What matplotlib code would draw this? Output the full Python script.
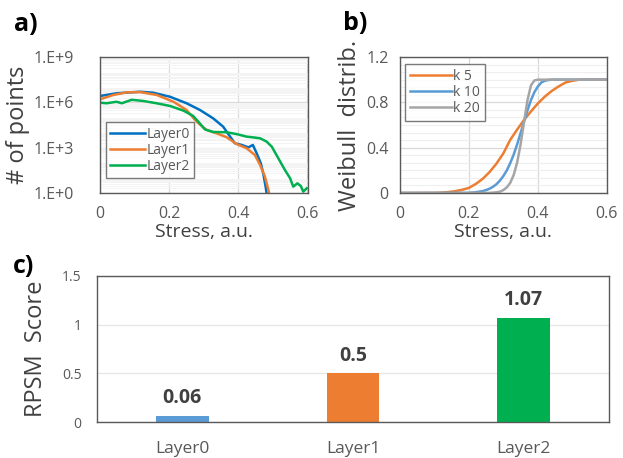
import numpy as np
import matplotlib.pyplot as plt
from matplotlib.ticker import FixedLocator, MultipleLocator, LogLocator, NullFormatter

plt.rcParams['font.family'] = ['Open Sans', 'DejaVu Sans']

# a) histogram of stress per layer (log10 of counts)
x_l0 = [0, .048, .116, .154, .203, .251, .29, .328, .357, .377, .391, .411, .43, .443,
        .454, .466, .473, .48, .486]
y_l0 = [6.42, 6.60, 6.70, 6.64, 6.37, 5.94, 5.49, 4.94, 4.39, 3.73, 3.29, 3.18, 3.02, 3.18,
        2.63, 1.97, 1.30, 0.42, -0.5]
x_l1 = [0, .039, .077, .116, .164, .213, .251, .28, .309, .338, .367, .396, .425, .449,
        .464, .478, .488, .494]
y_l1 = [6.2, 6.49, 6.66, 6.68, 6.49, 6.04, 5.49, 4.72, 4.17, 3.95, 3.69, 3.24, 2.96, 2.51,
        1.85, 1.08, 0.2, -0.5]
x_l2 = [0, .019, .048, .063, .092, .126, .164, .203, .242, .27, .285, .304, .328, .367,
        .396, .425, .444, .464, .483, .498, .517, .536, .551, .56, .572, .582, .589, .599]
y_l2 = [5.98, 5.94, 6.04, 5.94, 6.17, 6.09, 5.94, 5.76, 5.45, 5.10, 4.72, 4.21, 4.04, 4.02,
        3.90, 3.73, 3.68, 3.62, 3.40, 3.06, 2.29, 1.52, 0.97, 0.42, 0.64, 0.46, 0.09, 0.31]
layers = ['Layer0', 'Layer1', 'Layer2']

# b) Weibull CDFs
x_k5 = [0, .1, .12, .14, .16, .18, .2, .22, .24, .26, .28, .3, .32, .34, .36, .38, .4,
        .42, .44, .46, .48, .5, .52, .6]
k5 = [0, 0.001, 0.003, 0.008, 0.016, 0.028, 0.045, 0.08, 0.125, 0.185, 0.26, 0.35, 0.47,
      0.56, 0.645, 0.72, 0.79, 0.85, 0.90, 0.94, 0.975, 0.99, 1, 1]
x_k10 = [0, .2, .22, .24, .25, .26, .27, .28, .29, .3, .31, .32, .33, .34, .35, .36, .37,
         .38, .39, .4, .41, .42, .43, .44, .6]
k10 = [0, 0.001, 0.007, 0.017, 0.026, 0.038, 0.055, 0.078, 0.11, 0.15, 0.20, 0.265, 0.34,
       0.43, 0.53, 0.63, 0.73, 0.82, 0.89, 0.94, 0.975, 0.99, 0.997, 1, 1]
x_k20 = [0, .26, .28, .29, .3, .31, .32, .33, .34, .35, .36, .37, .38, .39, .4, .6]
k20 = [0, 0.001, 0.006, 0.012, 0.026, 0.05, 0.09, 0.16, 0.27, 0.43, 0.63, 0.82, 0.95,
       0.993, 1, 1]
k_labels = ['k 5', 'k 10', 'k 20']

# c) RPSM score
rpsm = [0.06, 0.5, 1.07]

frame_c = '#595959'
tick_c = '#595959'
lab_c = '#404040'

fig = plt.figure(figsize=(6.23, 4.58), dpi=100)
axa = fig.add_axes([0.1605, 0.5786, 0.334, 0.2969])
axb = fig.add_axes([0.642, 0.5786, 0.332, 0.2969])
axc = fig.add_axes([0.1557, 0.0786, 0.8218, 0.3188])

for ax in (axa, axb, axc):
    for s in ax.spines.values():
        s.set_color(frame_c)
        s.set_linewidth(1.0)
    ax.tick_params(length=0, colors=tick_c, labelsize=11.5)
    ax.set_axisbelow(True)

# ---- panel a
cols_a = ['#0070C0', '#ED7D31', '#00B050']
for xs, ys, c, lab in zip([x_l0, x_l1, x_l2], [y_l0, y_l1, y_l2], cols_a, layers):
    axa.plot(xs, 10.0 ** np.array(ys), color=c, lw=1.8, label=lab)
axa.set_yscale('log')
axa.set_ylim(1, 1e9)
axa.set_xlim(0, 0.603)
axa.yaxis.set_major_locator(FixedLocator([1, 1e3, 1e6, 1e9]))
axa.set_yticklabels(['1.E+0', '1.E+3', '1.E+6', '1.E+9'])
axa.yaxis.set_minor_locator(LogLocator(base=10, subs=np.arange(2, 10), numticks=20))
axa.yaxis.set_minor_formatter(NullFormatter())
axa.tick_params(which='minor', length=0)
axa.tick_params(axis='y', pad=19)
axa.tick_params(axis='x', pad=9)
axa.set_xticks([0, 0.2, 0.4, 0.6])
axa.set_xticklabels(['0', '0.2', '0.4', '0.6'])
axa.grid(True, which='major', color='#D9D9D9', lw=0.9)
axa.grid(True, which='minor', axis='y', color='#F4F4F4', lw=0.7)
axa.set_ylabel('# of points', fontsize=17, color=lab_c, labelpad=2)
axa.set_xlabel('Stress, a.u.', fontsize=14, color=lab_c, labelpad=1)
leg = axa.legend(loc='lower left', bbox_to_anchor=(0.03, 0.11), fontsize=10,
                 frameon=True, fancybox=False, handlelength=2.5, handletextpad=0.1,
                 borderpad=0.3, labelspacing=0.08, borderaxespad=0)
leg.get_frame().set_edgecolor(frame_c)
leg.get_frame().set_linewidth(1.0)
for t in leg.get_texts():
    t.set_color(tick_c)

# ---- panel b
cols_b = ['#ED7D31', '#5B9BD5', '#A5A5A5']
for xs, ys, c, lab in zip([x_k5, x_k10, x_k20], [k5, k10, k20], cols_b, k_labels):
    axb.plot(xs, ys, color=c, lw=1.8, label=lab)
axb.set_xlim(0, 0.6)
axb.set_ylim(0, 1.2)
axb.set_xticks([0, 0.2, 0.4, 0.6])
axb.set_xticklabels(['0', '0.2', '0.4', '0.6'])
axb.set_yticks([0, 0.4, 0.8, 1.2])
axb.set_yticklabels(['0', '0.4', '0.8', '1.2'])
axb.yaxis.set_minor_locator(MultipleLocator(0.4 / 6))
axb.tick_params(which='minor', length=0)
axb.tick_params(axis='y', pad=8)
axb.tick_params(axis='x', pad=9)
axb.grid(True, which='major', color='#D9D9D9', lw=0.9)
axb.grid(True, which='minor', axis='y', color='#EFEFEF', lw=0.8)
axb.set_ylabel('Weibull  distrib.', fontsize=17, color=lab_c, labelpad=3)
axb.set_xlabel('Stress, a.u.', fontsize=14, color=lab_c, labelpad=1)
leg = axb.legend(loc='upper left', bbox_to_anchor=(0.025, 0.945), fontsize=10,
                 frameon=True, fancybox=False, handlelength=3.0, handletextpad=0.1,
                 borderpad=0.35, labelspacing=0.05, borderaxespad=0)
leg.get_frame().set_edgecolor(frame_c)
leg.get_frame().set_linewidth(1.0)
for t in leg.get_texts():
    t.set_color(tick_c)

# ---- panel c
cols_c = ['#5B9BD5', '#ED7D31', '#00B050']
xc = np.arange(len(layers))
bars = axc.bar(xc, rpsm, width=0.31, color=cols_c, zorder=2)
for b, v in zip(bars, rpsm):
    axc.text(b.get_x() + b.get_width() / 2, v + 0.08, f'{v:g}', ha='center', va='bottom',
             fontsize=14, fontweight='bold', color=lab_c)
axc.set_xlim(-0.5, 2.5)
axc.set_ylim(0, 1.5)
axc.set_yticks([0, 0.5, 1, 1.5])
axc.set_yticklabels(['0', '0.5', '1', '1.5'])
axc.set_xticks(xc)
axc.set_xticklabels(layers)
axc.tick_params(axis='y', labelsize=10, pad=11)
axc.tick_params(axis='x', labelsize=12.5, pad=14)
axc.grid(True, axis='y', color='#E5E5E5', lw=0.9)
axc.set_ylabel('RPSM  Score', fontsize=17, color=lab_c, labelpad=10)

# panel letters
fig.text(0.042, 0.946, 'a)', fontsize=18, fontweight='bold', ha='center', va='center')
fig.text(0.570, 0.948, 'b)', fontsize=18, fontweight='bold', ha='center', va='center')
fig.text(0.038, 0.418, 'c)', fontsize=18, fontweight='bold', ha='center', va='center')

fig.savefig('out.png', dpi=100)
